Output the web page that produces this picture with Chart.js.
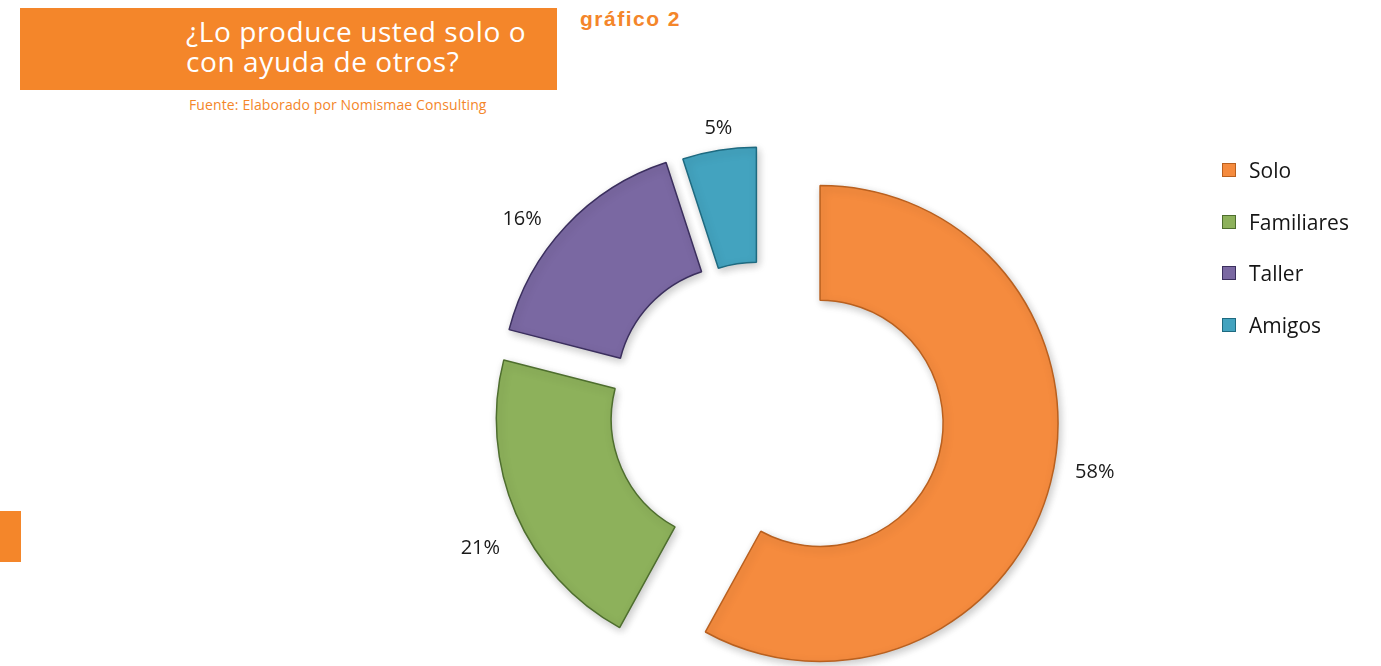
<!DOCTYPE html>
<html lang="es">
<head>
<meta charset="utf-8">
<title>¿Lo produce usted solo o con ayuda de otros?</title>
<script src="https://cdn.jsdelivr.net/npm/chart.js@4.4.1/dist/chart.umd.min.js"></script>
<style>
  html, body { margin: 0; padding: 0; background: #fff; }
  body { width: 1381px; height: 666px; position: relative; overflow: hidden; font-family: "Open Sans", sans-serif; }
  #myChart { position: absolute; left: 0; top: 0; }
  .title-box { position: absolute; left: 20px; top: 8px; width: 537px; height: 82px; background: #F4862A; }
  .title { position: absolute; left: 186px; top: 16px; margin: 0; color: #fff; font-size: 28px; line-height: 30px; letter-spacing: 0.6px; white-space: nowrap; }
  .grafico { position: absolute; left: 580px; top: 7px; color: #F4862A; font: bold 21px "Liberation Sans", Arial, sans-serif; letter-spacing: 1.5px; }
  .fuente { position: absolute; left: 189px; top: 95px; color: #F4862A; font-size: 14px; letter-spacing: 0.12px; white-space: nowrap; }
  .side-tab { position: absolute; left: 0; top: 511px; width: 21px; height: 51px; background: #F4862A; }
  #legend { position: absolute; left: 1222px; top: 144px; margin: 0; padding: 0; list-style: none; }
  #legend li { height: 51.7px; display: flex; align-items: center; font-size: 21px; color: #151515; }
  #legend .box { width: 14px; height: 14px; margin-right: 13px; box-sizing: border-box; border: 1px solid; }
</style>
</head>
<body>
<div class="title-box"></div>
<p class="title">¿Lo produce usted solo o<br>con ayuda de otros?</p>
<div class="grafico">gráfico 2</div>
<div class="fuente">Fuente: Elaborado por Nomismae Consulting</div>
<div class="side-tab"></div>
<canvas id="myChart" width="1381" height="666"></canvas>
<ul id="legend"></ul>

<script>
const labels = ['Solo', 'Familiares', 'Taller', 'Amigos'];
const shares = [58, 21, 16, 5]; // percent of answers

const fills = ['#F58B3E', '#8DB15B', '#7A68A2', '#43A3BF'];
const edges = ['#B9601F', '#4E6E2E', '#3B2F5E', '#1E6A80'];
const explode = [248, 112, 112, 92]; // Chart.js moves a slice by offset / 4

// where each percentage sits outside its slice
const labelTurn = [-4.4, -3.6, -5.2, 0.6]; // degrees
const labelGap = [41, 47, 38, 22];         // px past the outer edge

// An exploded arc in Chart.js gets a bigger radius and a narrower angle.
// Undo both so every slice keeps the ring width and its true share.
const keepRing = {
    id: 'keepRing',
    afterDatasetUpdate(chart, args) {
        args.meta.data.forEach(arc => {
            const shift = (arc.options.offset || 0) / 4;
            const fix = 1 - Math.sin(Math.min(Math.PI, arc.circumference));
            const grow = shift * fix;
            const drawnOuter = arc.outerRadius;
            arc.outerRadius -= grow;
            arc.innerRadius -= grow;
            const trim = grow / (2 * Math.PI * drawnOuter);
            arc.startAngle -= trim;
            arc.endAngle += trim;
        });
    }
};

const softShadow = {
    id: 'softShadow',
    beforeDatasetDraw(chart) {
        const ctx = chart.ctx;
        ctx.save();
        ctx.shadowColor = 'rgba(0, 0, 0, 0.22)';
        ctx.shadowBlur = 8;
        ctx.shadowOffsetX = 2;
        ctx.shadowOffsetY = 3;
    },
    afterDatasetDraw(chart) {
        chart.ctx.restore();
    }
};

const sliceLabels = {
    id: 'sliceLabels',
    afterDatasetsDraw(chart) {
        const ctx = chart.ctx;
        const meta = chart.getDatasetMeta(0);
        const outer = meta.controller.outerRadius;
        ctx.save();
        ctx.font = '20px "Open Sans"';
        ctx.fillStyle = '#1a1a1a';
        ctx.textAlign = 'center';
        ctx.textBaseline = 'middle';
        meta.data.forEach((arc, i) => {
            const shift = arc.options.offset / 4;
            const mid = (arc.startAngle + arc.endAngle) / 2;
            const a = mid + labelTurn[i] * Math.PI / 180;
            const r = outer + labelGap[i];
            const x = arc.x + Math.cos(mid) * shift + Math.cos(a) * r;
            const y = arc.y + Math.sin(mid) * shift + Math.sin(a) * r;
            ctx.fillText(shares[i] + '%', x, y);
        });
        ctx.restore();
    }
};

document.addEventListener('DOMContentLoaded', function () {
    const ctx = document.getElementById('myChart').getContext('2d');
    new Chart(ctx, {
        type: 'doughnut',
        data: {
            labels: labels,
            datasets: [{
                data: shares,
                backgroundColor: fills,
                borderColor: edges,
                borderWidth: 1.5,
                offset: explode
            }]
        },
        options: {
            responsive: false,
            animation: false,
            radius: 238,
            cutout: '51.7%',
            layout: { padding: { left: 139, top: 150, right: 0, bottom: 0 } },
            plugins: {
                legend: { display: false },
                tooltip: { enabled: false }
            },
            events: []
        },
        plugins: [keepRing, softShadow, sliceLabels]
    });

    const legend = document.getElementById('legend');
    labels.forEach((name, i) => {
        const li = document.createElement('li');
        const box = document.createElement('span');
        box.className = 'box';
        box.style.background = fills[i];
        box.style.borderColor = edges[i];
        li.appendChild(box);
        li.appendChild(document.createTextNode(name));
        legend.appendChild(li);
    });
});
</script>
</body>
</html>
